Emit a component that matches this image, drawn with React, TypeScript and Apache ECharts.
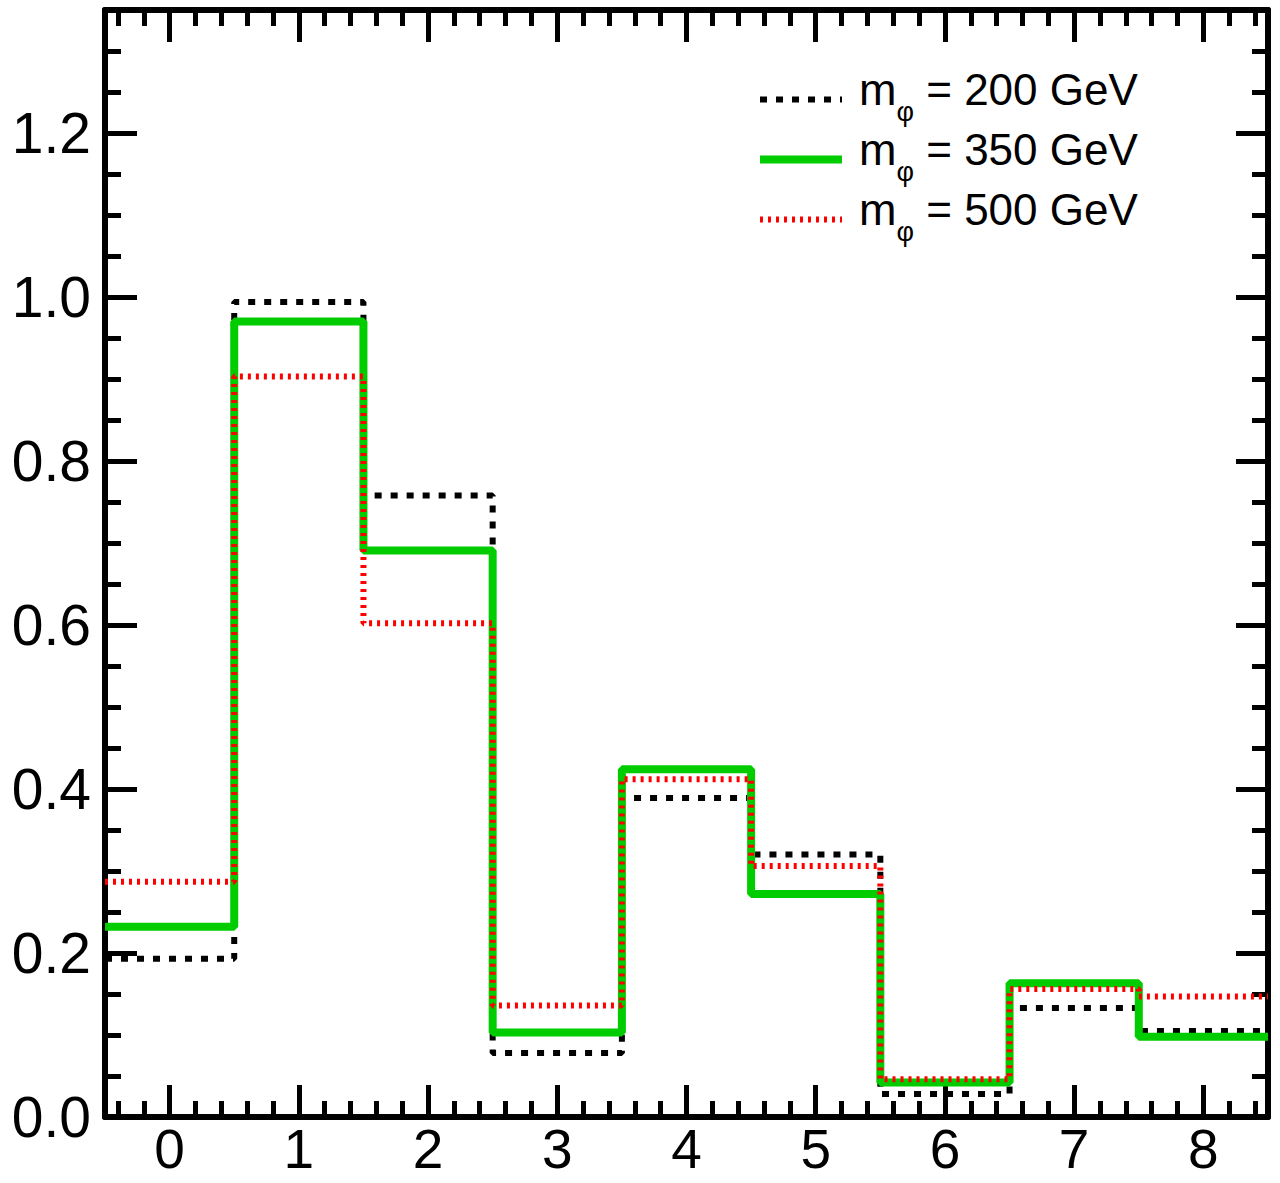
import React, { useEffect, useRef } from "react";
import * as echarts from "echarts";

// Bins (x categories) and normalised values per mass hypothesis
const bins = [0, 1, 2, 3, 4, 5, 6, 7, 8];
const masses = ["200", "350", "500"];
const m200 = [0.193, 0.994, 0.758, 0.078, 0.389, 0.32, 0.028, 0.133, 0.105];
const m350 = [0.232, 0.97, 0.691, 0.103, 0.424, 0.272, 0.042, 0.163, 0.098];
const m500 = [0.287, 0.903, 0.602, 0.136, 0.412, 0.306, 0.046, 0.156, 0.147];
const yTickLabels = [0, 0.2, 0.4, 0.6, 0.8, 1.0, 1.2];
const xTickLabels = bins;

const FONT = "Liberation Sans, Arial, Helvetica, sans-serif";

function stepData(vals: number[]) {
  const pts: number[][] = bins.map((b, i) => [b - 0.5, vals[i]]);
  pts.push([bins[bins.length - 1] + 0.5, vals[vals.length - 1]]);
  return pts;
}

function minorValues(lo: number, hi: number, step: number, major: number) {
  const out: number[] = [];
  const n = Math.round((hi - lo) / step);
  for (let k = 0; k <= n; k++) {
    const v = +(lo + k * step).toFixed(4);
    const r = v / major;
    if (Math.abs(r - Math.round(r)) > 1e-6) out.push(v);
  }
  return out;
}

export default function App() {
  const ref = useRef<HTMLDivElement>(null);
  useEffect(() => {
    document.body.style.margin = "0";
    const chart = echarts.init(ref.current!, null, { renderer: "svg" });
    const xMin = -0.5;
    const xMax = 8.5;
    const yMin = 0;
    const yMax = 1.35;
    const xMinor = minorValues(-0.4, 8.4, 0.2, 1);
    const yMinor = minorValues(0.05, 1.3, 0.05, 0.2);
    const lineCol = "#000";
    const baseX = (pos: "bottom" | "top", major: boolean, labels: boolean) => ({
      type: "value",
      position: pos,
      min: xMin,
      max: xMax,
      axisLine: { show: major, onZero: false, lineStyle: { color: lineCol, width: 6 } },
      axisTick: {
        show: true,
        inside: true,
        length: major ? 32 : 16,
        customValues: major ? xTickLabels : xMinor,
        lineStyle: { color: lineCol, width: 5 },
      },
      axisLabel: labels
        ? {
            show: true,
            customValues: xTickLabels,
            fontSize: 55,
            lineHeight: 48,
            fontFamily: FONT,
            color: "#000",
            margin: 8,
          }
        : { show: false },
      splitLine: { show: false },
    });
    const baseY = (pos: "left" | "right", major: boolean, labels: boolean) => ({
      type: "value",
      position: pos,
      min: yMin,
      max: yMax,
      axisLine: { show: major, onZero: false, lineStyle: { color: lineCol, width: 6 } },
      axisTick: {
        show: true,
        inside: true,
        length: major ? 32 : 16,
        customValues: major ? yTickLabels : yMinor,
        lineStyle: { color: lineCol, width: 5 },
      },
      axisLabel: labels
        ? {
            show: true,
            customValues: yTickLabels,
            formatter: (v: number) => v.toFixed(1),
            fontSize: 57,
            fontFamily: FONT,
            color: "#000",
            margin: 14,
          }
        : { show: false },
      splitLine: { show: false },
    });

    const legendName = (m: string) => `mφ = ${m} GeV`;
    const legendStyles = [
      { color: "#000", width: 6, type: [7, 9] },
      { color: "#00cc00", width: 8, type: "solid" },
      { color: "#ff0000", width: 6, type: [3, 5] },
    ];
    const option: any = {
      animation: false,
      backgroundColor: "#fff",
      grid: { left: 105, right: 12, top: 10, bottom: 66, containLabel: false },
      xAxis: [
        baseX("bottom", true, true),
        baseX("bottom", false, false),
        baseX("top", true, false),
        baseX("top", false, false),
      ],
      yAxis: [
        baseY("left", true, true),
        baseY("left", false, false),
        baseY("right", true, false),
        baseY("right", false, false),
      ],
      legend: {
        orient: "vertical",
        left: 756,
        top: 67,
        padding: 0,
        itemWidth: 82,
        itemHeight: 14,
        itemGap: -5,
        data: masses.map((m, i) => ({
          name: legendName(m),
          itemStyle: { opacity: 0 },
          lineStyle: { ...legendStyles[i], opacity: 1 },
        })),
        formatter: (name: string) => {
          const m = name.replace("mφ = ", "");
          return `{m|m}{s|φ}{t| = ${m}}`;
        },
        textStyle: {
          fontFamily: FONT,
          color: "#000",
          rich: {
            m: { fontSize: 45, fontFamily: FONT, color: "#000", lineHeight: 36, padding: [0, 0, 20, 12] },
            s: { fontSize: 27, fontFamily: FONT, color: "#000", lineHeight: 36, padding: [24, 0, 0, 0] },
            t: { fontSize: 44, fontFamily: FONT, color: "#000", lineHeight: 36, padding: [0, 0, 20, 0] },
          },
        },
      },
      series: [
        {
          name: legendName(masses[0]),
          type: "line",
          step: "end",
          symbol: "none",
          data: stepData(m200),
          lineStyle: legendStyles[0],
          itemStyle: { color: "#000" },
          z: 2,
        },
        {
          name: legendName(masses[1]),
          type: "line",
          step: "end",
          symbol: "none",
          data: stepData(m350),
          lineStyle: legendStyles[1],
          itemStyle: { color: "#00cc00" },
          z: 3,
        },
        {
          name: legendName(masses[2]),
          type: "line",
          step: "end",
          symbol: "none",
          data: stepData(m500),
          lineStyle: legendStyles[2],
          itemStyle: { color: "#ff0000" },
          z: 4,
        },
      ],
    };
    chart.setOption(option);
    return () => chart.dispose();
  }, []);
  return <div ref={ref} style={{ width: 1280, height: 1183 }} />;
}
